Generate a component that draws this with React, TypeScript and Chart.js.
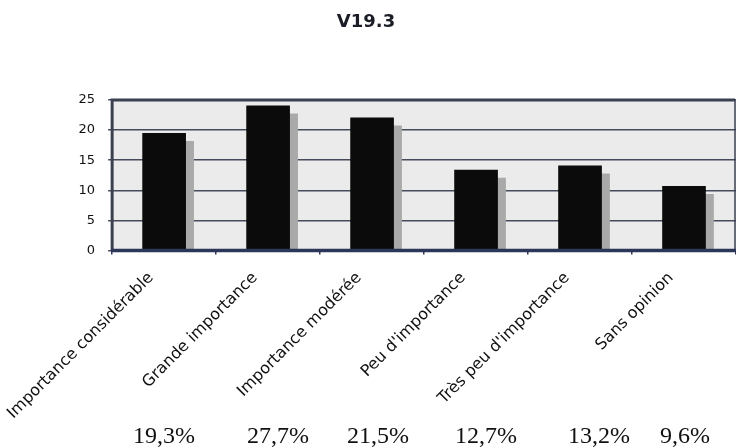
import React, { useEffect, useRef } from "react";
import { Chart, registerables } from "chart.js";

Chart.register(...registerables);

// Survey answers for question V19.3
const categories = [
  "Importance considérable",
  "Grande importance",
  "Importance modérée",
  "Peu d'importance",
  "Très peu d'importance",
  "Sans opinion",
];
const values = [19.5, 24.1, 22.1, 13.4, 14.1, 10.7];
const percentLabels = ["19,3%", "27,7%", "21,5%", "12,7%", "13,2%", "9,6%"];
const yMax = 25;
const yStep = 5;

const TITLE = "V19.3";

// left edges of the percentage line under the chart
const PERCENT_X = [133, 247, 347, 455, 568, 660];

const W = 736;
const H = 448;
const PLOT_TOP = 100;
const PLOT_LEFT = 112;
const PLOT_BOTTOM = 250.5;

const framePlugin = {
  id: "frame",
  beforeDraw(chart: any) {
    const { ctx, chartArea } = chart;
    const { left, top, right, bottom } = chartArea;
    ctx.save();
    ctx.fillStyle = "#ffffff";
    ctx.fillRect(0, 0, chart.width, chart.height);
    ctx.fillStyle = "#ebebeb";
    ctx.fillRect(left, top, right - left, bottom - top);
    ctx.restore();
  },
  beforeDatasetDraw(chart: any) {
    const ctx = chart.ctx;
    ctx.save();
    ctx.shadowColor = "#a9a9a9";
    ctx.shadowOffsetX = 8;
    ctx.shadowOffsetY = 8;
    ctx.shadowBlur = 0;
  },
  afterDatasetDraw(chart: any) {
    chart.ctx.restore();
  },
  afterDraw(chart: any) {
    const { ctx, chartArea } = chart;
    const { left, top, right, bottom } = chartArea;
    ctx.save();
    // frame around the plot
    ctx.strokeStyle = "#3c4152";
    ctx.lineWidth = 3;
    ctx.beginPath();
    ctx.moveTo(left, bottom);
    ctx.lineTo(left, top);
    ctx.lineTo(right - 1, top);
    ctx.stroke();
    ctx.lineWidth = 1.5;
    ctx.beginPath();
    ctx.moveTo(right - 1, top);
    ctx.lineTo(right - 1, bottom);
    ctx.stroke();
    ctx.strokeStyle = "#2c3658";
    ctx.lineWidth = 3.5;
    ctx.beginPath();
    ctx.moveTo(left - 1, bottom);
    ctx.lineTo(right, bottom);
    ctx.stroke();

    // title
    ctx.fillStyle = "#1a1d26";
    ctx.font = "bold 18px 'DejaVu Sans'";
    ctx.textAlign = "center";
    ctx.textBaseline = "middle";
    ctx.fillText(TITLE, 366, 22);

    // percentage line
    ctx.fillStyle = "#111111";
    ctx.font = "24px 'Liberation Serif'";
    ctx.textAlign = "left";
    ctx.textBaseline = "alphabetic";
    percentLabels.forEach((t, i) => ctx.fillText(t, PERCENT_X[i], 443));
    ctx.restore();
  },
};

export default function App() {
  const ref = useRef<HTMLCanvasElement | null>(null);

  useEffect(() => {
    document.body.style.margin = "0";
    const canvas = ref.current;
    if (!canvas) return;
    const chart = new Chart(canvas, {
      type: "bar",
      data: {
        labels: categories,
        datasets: [
          {
            data: values,
            backgroundColor: "#0b0b0b",
            borderWidth: 0,
            categoryPercentage: 1,
            barPercentage: 0.42,
            clip: 0,
          } as any,
        ],
      },
      plugins: [framePlugin],
      options: {
        responsive: false,
        animation: false,
        layout: { padding: { top: PLOT_TOP, left: 0, right: 0, bottom: 0 } },
        plugins: {
          legend: { display: false },
          title: { display: false },
          tooltip: { enabled: false },
        },
        scales: {
          x: {
            offset: true,
            grid: {
              display: true,
              drawOnChartArea: false,
              drawTicks: true,
              tickLength: 4,
              color: "#2c3658",
              lineWidth: 1.5,
              offset: true,
            },
            border: { display: false },
            ticks: {
              autoSkip: false,
              minRotation: 45,
              maxRotation: 45,
              padding: 14,
              labelOffset: -13,
              color: "#111111",
              font: { family: "'DejaVu Sans'", size: 16 },
            },
            afterFit(scale: any) {
              scale.height = H - PLOT_BOTTOM;
            },
          },
          y: {
            min: 0,
            max: yMax,
            ticks: {
              stepSize: yStep,
              padding: 13,
              color: "#111111",
              font: { family: "'DejaVu Sans'", size: 13 },
            },
            grid: {
              color: "#454a5c",
              lineWidth: 1.5,
              tickLength: 4,
            },
            border: { display: false },
            afterFit(scale: any) {
              scale.width = PLOT_LEFT;
            },
          },
        },
      },
    });
    return () => chart.destroy();
  }, []);

  return (
    <div style={{ position: "fixed", left: 0, top: 0, width: W, height: H, background: "#fff" }}>
      <canvas ref={ref} width={W} height={H} />
    </div>
  );
}
